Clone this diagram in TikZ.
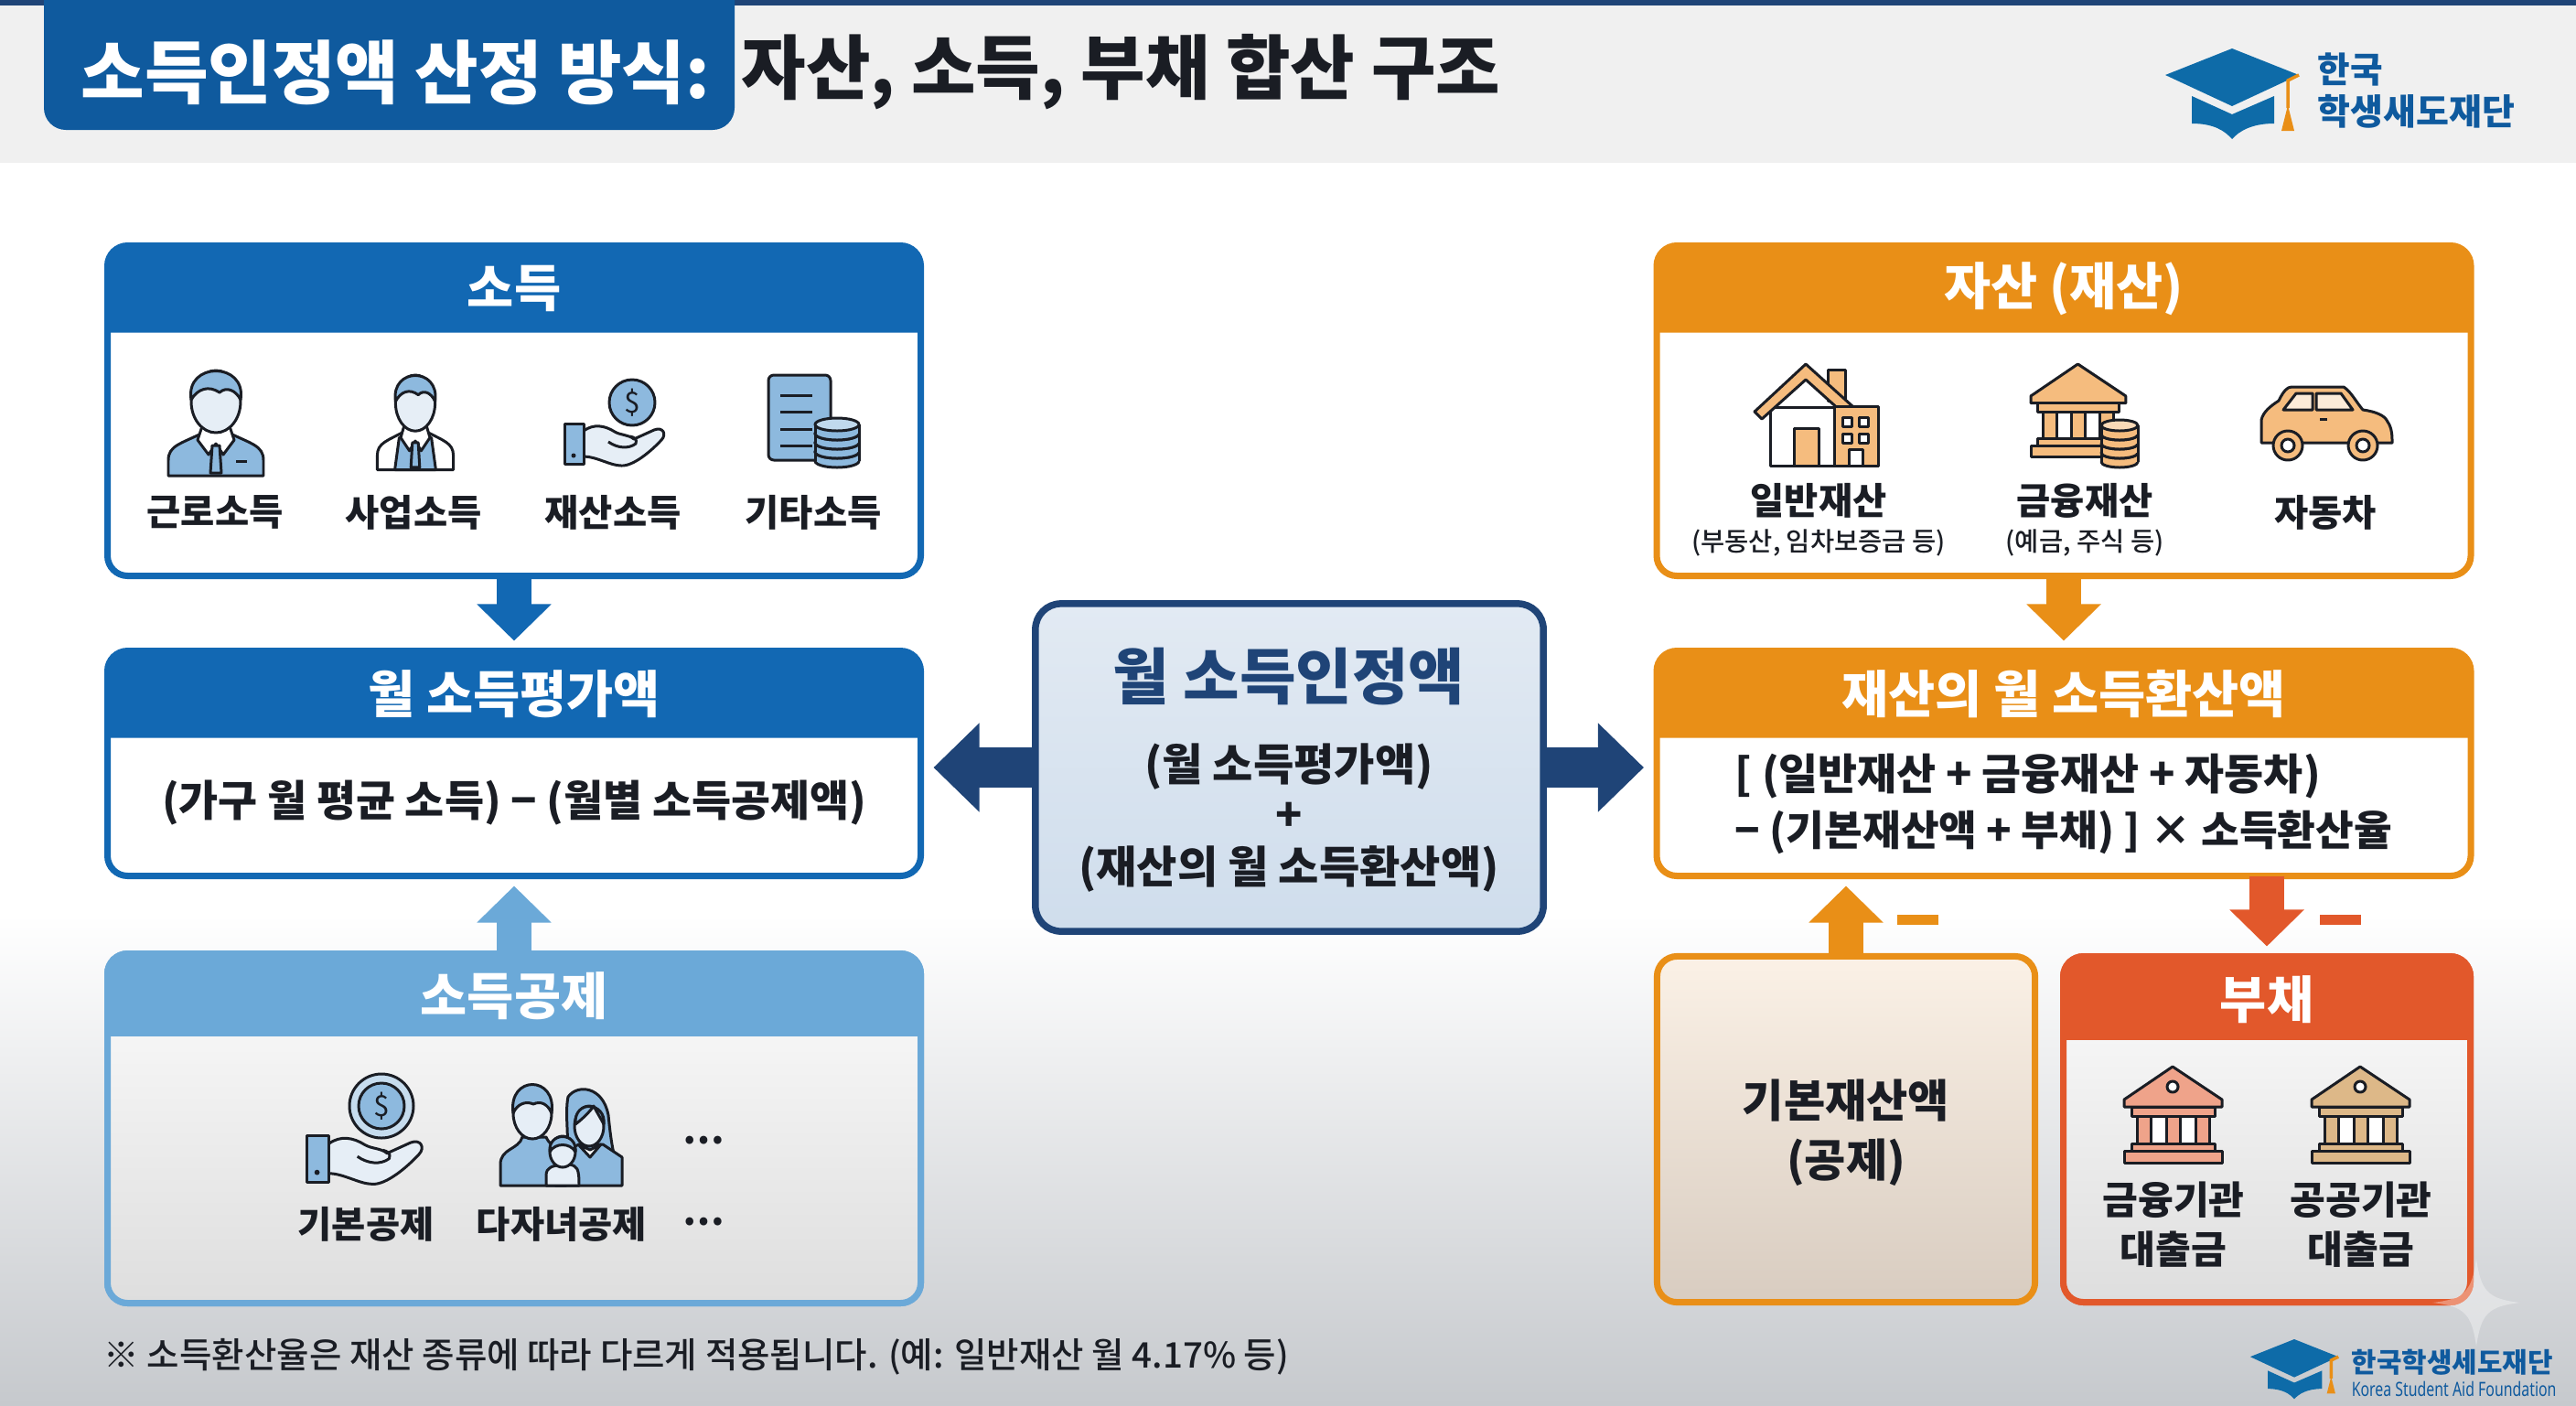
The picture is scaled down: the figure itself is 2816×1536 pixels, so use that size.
\documentclass[tikz,border=0pt]{standalone}
\usepackage{fontspec}
\setmainfont{Noto Sans CJK KR}
\newfontfamily\krmed{Noto Sans CJK KR Medium}
\newfontfamily\engfont[FakeStretch=0.74]{Noto Sans}
\usetikzlibrary{arrows.meta,calc}

\definecolor{incblue}{HTML}{1268B3}
\definecolor{dedblue}{HTML}{6BA9D8}
\definecolor{tabblue}{HTML}{0F5A9E}
\definecolor{navy}{HTML}{1F4477}
\definecolor{asorange}{HTML}{E98F17}
\definecolor{debtred}{HTML}{E2582B}
\definecolor{inkc}{HTML}{1A1D24}
\definecolor{icblue}{HTML}{8DB9DE}
\definecolor{icorange}{HTML}{F5BC7E}
\definecolor{bottomgray}{HTML}{C6C9CD}
\definecolor{centretop}{HTML}{E2EAF3}
\definecolor{centrebot}{HTML}{CFDDEC}
\definecolor{basetop}{HTML}{FBF1E6}
\definecolor{basebot}{HTML}{D8CCC0}
\definecolor{facec}{HTML}{E6EEF6}

\tikzset{
	ink/.style={draw=inkc,line width=0.85pt,line join=round},
	cardbox/.style={draw=#1,line width=0.07cm,rounded corners=0.22cm,inner sep=0pt,outer sep=0pt,fill=white},
	hdrtext/.style={text=white,inner sep=0pt,font=\bfseries\fontsize{15.8}{18}\selectfont},
	itemtext/.style={text=inkc,inner sep=0pt,align=center,font=\bfseries\fontsize{11.5}{15.5}\selectfont},
	subtext/.style={text=inkc,inner sep=0pt,font=\krmed\fontsize{8.1}{10}\selectfont},
	bodytext/.style={text=inkc,inner sep=0pt,align=left,font=\bfseries\fontsize{13.3}{17}\selectfont},
	centretext/.style={text=inkc,inner sep=0pt,font=\bfseries\fontsize{13.7}{16}\selectfont},
	blockarrow/.style={line width=0.38cm,draw=#1,-{Triangle[length=0.40cm,width=0.79cm]},shorten >=0.11cm},
	sidearrow/.style={line width=0.44cm,draw=navy,-{Triangle[length=0.50cm,width=0.94cm]},shorten >=0.14cm},
	minusbar/.style={fill=#1,minimum width=0.45cm,minimum height=0.11cm,inner sep=0pt}
}

% card with a coloured head: name, centre x, top y, width, height, head height, colour, title
\newcommand{\headcard}[8]{
	\node[cardbox=#7,minimum width=#4*0.01cm-0.07cm,minimum height=#5*0.01cm-0.07cm] (#1) at (#2,#3+#5/2) {};
	\fill[#7] ([yshift=-#6*0.01cm]#1.north west) [rounded corners=0.22cm] -- (#1.north west) -- (#1.north east) [sharp corners] -- ([yshift=-#6*0.01cm]#1.north east) -- cycle;
	\node[hdrtext] (#1head) at (#2,#3+#6/2+3) {#8};
}

% ICONS
\newcommand{\workericon}[5]{
	\begin{scope}[shift={(#1,#2)},#3]
		\draw[ink,fill=#4] (-52,115) -- (-52,98) .. controls (-52,82) and (-38,80) .. (-14,68) -- (14,68) .. controls (38,80) and (52,82) .. (52,98) -- (52,115) -- cycle;
		\draw[ink,#5] (-28,115) -- (-22,76) -- (22,76) -- (28,115) -- cycle;
		\draw[ink,fill=white] (-14,58) -- (-20,76) -- (-8,92) -- (0,80) -- (8,92) -- (20,76) -- (14,58) -- cycle;
		\draw[ink,fill=icblue] (-4,82) -- (4,82) -- (6,112) -- (-6,112) -- cycle;
		\draw[ink,fill=facec] (0,34) ellipse [x radius=27,y radius=34];
		\draw[ink,fill=icblue] (-27,32) .. controls (-34,-10) and (34,-10) .. (27,32) .. controls (22,22) and (12,17) .. (4,24) .. controls (-8,16) and (-20,20) .. (-27,32) -- cycle;
	\end{scope}
}
\newcommand{\handicon}[3]{
	\begin{scope}[shift={(#1,#2)},scale=#3]
		\draw[ink,fill=facec] (21,8) .. controls (32,0) and (44,2) .. (55,9) .. controls (62,13) and (70,12) .. (76,17) -- (98,7) .. controls (108,3) and (112,12) .. (106,18) .. controls (95,30) and (75,47) .. (62,46) .. controls (50,46) and (35,36) .. (21,36) -- cycle;
		\draw[ink] (48,20) .. controls (58,27) and (70,28) .. (78,22) .. controls (80,17) and (76,15) .. (72,14);
		\draw[ink,fill=icblue] (0,0) rectangle (21,44);
		\fill[inkc] (10,35) circle [radius=2.5];
	\end{scope}
}
\newcommand{\coinicon}[4]{
	\draw[ink,fill=icblue] (#1,#2) circle [radius=#3];
	\node[inner sep=0pt,text=inkc,font=\fontsize{#4}{10}\selectfont] at (#1,#2) {\$};
}
\newcommand{\coinstack}[6]{
	\begin{scope}[shift={(#1,#2)}]
		\foreach \k in {#5,...,0} {
			\draw[ink,fill=#6] (0,{(\k+1)*10}) ellipse [x radius=#3,y radius=#4];
			\fill[#6] (-#3,{\k*10}) rectangle (#3,{(\k+1)*10});
			\draw[ink] (-#3,{\k*10}) -- (-#3,{(\k+1)*10}) (#3,{\k*10}) -- (#3,{(\k+1)*10});
			\draw[ink,fill=#6!55!white] (0,{\k*10}) ellipse [x radius=#3,y radius=#4];
		}
	\end{scope}
}
\newcommand{\bankicon}[4]{
	\begin{scope}[shift={(#1,#2)},scale=#3]
		\draw[ink,fill=#4] (53,0) -- (107,36) -- (107,44) -- (0,44) -- (0,36) -- cycle;
		\draw[ink,fill=#4] (8,44) rectangle (99,54);
		\draw[ink,fill=white] (14,54) rectangle (93,84);
		\foreach \c in {14,46,78} {
			\draw[ink,fill=#4] (\c,54) rectangle (\c+15,84);
		}
		\draw[ink,fill=#4] (8,84) rectangle (99,92);
		\draw[ink,fill=#4] (0,92) rectangle (107,105);
	\end{scope}
}
\newcommand{\caplogo}[3]{
	\begin{scope}[shift={(#1,#2)},scale=#3]
		\fill[tabblue!90!cyan] (-44,52) -- (-44,82) .. controls (-20,82) and (-8,90) .. (0,99) .. controls (8,90) and (22,82) .. (46,82) -- (46,52) -- (0,72) -- cycle;
		\fill[tabblue!90!cyan] (-73,29) -- (0,0) -- (73,29) -- (0,63) -- cycle;
		\draw[asorange,line width=1pt] (73,29) -- (61,35) -- (61,65);
		\fill[asorange] (61,62) -- (54,90) -- (68,90) -- cycle;
	\end{scope}
}

\begin{document}
\begin{tikzpicture}[x=0.01cm,y=-0.01cm]
	\useasboundingbox (0,0) rectangle (2816,1536);
	%BACKGROUND
	\fill[white] (0,0) rectangle (2816,1536);
	\shade[top color=white,bottom color=bottomgray] (0,1000) rectangle (2816,1536);
	\fill[black!6] (0,0) rectangle (2816,178);
	\fill[navy] (0,0) rectangle (2816,6);

	%TITLE
	\fill[tabblue] (48,0) [rounded corners=0.24cm] -- (48,142) -- (803,142) [sharp corners] -- (803,0) -- cycle;
	\node[text=white,inner sep=0pt,anchor=west,font=\bfseries\fontsize{21.5}{25}\selectfont] (maintitle) at (88,79) {소득인정액 산정 방식:};
	\node[text=inkc,inner sep=0pt,anchor=west,font=\bfseries\fontsize{21.8}{25}\selectfont] (subtitle) at (810,79) {자산, 소득, 부채 합산 구조};

	%LOGOS
	\caplogo{2440}{53}{1}
	\node[text=tabblue,inner sep=0pt,anchor=west,font=\bfseries\fontsize{11}{13}\selectfont] (logoa) at (2533,76) {한국};
	\node[text=tabblue,inner sep=0pt,anchor=west,font=\bfseries\fontsize{11.1}{13}\selectfont] (logob) at (2533,122) {학생새도재단};
	\caplogo{2508}{1464}{0.66}
	\node[text=tabblue,inner sep=0pt,anchor=west,font=\bfseries\fontsize{8.5}{10}\selectfont] (logoc) at (2570,1489) {한국학생세도재단};
	\node[text=tabblue,inner sep=0pt,anchor=west,font=\engfont\bfseries\fontsize{6.1}{7}\selectfont] (logod) at (2570,1518) {Korea Student Aid Foundation};

	%LEFT COLUMN
	\headcard{income}{562}{265}{896}{368}{95}{incblue}{소득}
	\headcard{evalamt}{562}{708}{896}{253}{95}{incblue}{월 소득평가액}
	\headcard{deduct}{562}{1039}{896}{389}{94}{dedblue}{소득공제}
	\shade[top color=black!4,bottom color=black!13] (117,1133) [rounded corners=0.2cm] -- (117,1425) -- (1007,1425) [sharp corners] -- (1007,1133) -- cycle;
	\draw[dedblue,line width=0.07cm,rounded corners=0.22cm] (deduct.north west) rectangle (deduct.south east);

	\workericon{236}{405}{scale=1}{icblue}{draw=none}
	\draw[ink] (258,504) -- (270,504);
	\workericon{454}{410}{xscale=0.8,yscale=0.9}{white}{fill=icblue}
	\handicon{617}{463}{1}
	\coinicon{691}{440}{25}{9}
	\draw[ink,fill=icblue] (840,410) [rounded corners=0.06cm] rectangle (908,503);
	\foreach \y in {432,450,469,487} {
		\draw[ink] (853,\y) -- (888,\y);
	}
	\coinstack{915}{464}{24}{7}{3}{icblue}
	\node[itemtext] (kglabel) at (235,560) {근로소득};
	\node[itemtext] (bzlabel) at (452,560) {사업소득};
	\node[itemtext] (prlabel) at (670,560) {재산소득};
	\node[itemtext] (etlabel) at (889,560) {기타소득};

	\node[bodytext,align=center] (evalbody) at (562,878) {(가구 월 평균 소득) − (월별 소득공제액)};

	\handicon{335}{1241}{1.16}
	\draw[ink,fill=icblue!50!white] (417,1209) circle [radius=35];
	\coinicon{417}{1209}{25}{9}
	\begin{scope}[shift={(547,1185)}]
		\draw[ink,fill=icblue] (74,14) .. controls (84,0) and (112,2) .. (118,34) .. controls (120,54) and (122,70) .. (126,84) -- (72,84) .. controls (76,60) and (70,34) .. (74,14) -- cycle;
		\draw[ink,fill=icblue] (60,111) -- (60,78) -- (86,66) -- (112,66) -- (133,80) -- (133,111) -- cycle;
		\draw[ink,fill=facec] (97,46) ellipse [x radius=16,y radius=22];
		\draw[ink,fill=icblue] (82,44) .. controls (90,38) and (98,30) .. (102,24) .. controls (106,32) and (110,38) .. (113,44) .. controls (116,20) and (80,16) .. (82,44) -- cycle;
		\draw[ink,fill=white] (85,66) -- (98,80) -- (110,66) -- (98,72) -- cycle;
		\draw[ink,fill=icblue] (0,111) -- (0,88) .. controls (0,70) and (20,72) .. (24,58) -- (50,58) .. controls (56,72) and (72,72) .. (72,90) -- (72,111) -- cycle;
		\draw[ink,fill=facec] (35,32) ellipse [x radius=21,y radius=28];
		\draw[ink,fill=icblue] (14,32) .. controls (8,-10) and (62,-10) .. (56,32) .. controls (52,22) and (44,18) .. (36,22) .. controls (28,18) and (18,22) .. (14,32) -- cycle;
		\draw[ink,fill=facec] (50,111) -- (50,100) .. controls (50,90) and (58,90) .. (66,88) -- (76,88) .. controls (84,90) and (86,92) .. (86,111) -- cycle;
		\draw[ink,fill=facec] (68,74) ellipse [x radius=14,y radius=17];
		\draw[ink,fill=icblue] (54,74) .. controls (52,52) and (84,52) .. (82,74) .. controls (76,64) and (60,64) .. (54,74) -- cycle;
	\end{scope}
	\node[itemtext] (baslabel) at (400,1338) {기본공제};
	\node[itemtext] (chlabel) at (614,1338) {다자녀공제};
	\node[itemtext] (dotsa) at (769,1247) {…};
	\node[itemtext] (dotsb) at (769,1336) {…};

	\node[text=inkc,inner sep=0pt,anchor=west,font=\krmed\fontsize{10.95}{13}\selectfont] (footnote) at (113,1483) {※ 소득환산율은 재산 종류에 따라 다르게 적용됩니다. (예: 일반재산 월 4.17\% 등)};

	\draw[blockarrow=incblue] (income.south) -- (evalamt.north);
	\draw[blockarrow=dedblue] (deduct.north) -- (evalamt.south);

	%CENTRE
	\node[draw=navy,line width=0.075cm,rounded corners=0.28cm,inner sep=0pt,outer sep=0pt,top color=centretop,bottom color=centrebot,minimum width=5.55cm,minimum height=3.58cm] (centre) at (1409.5,839) {};
	\node[text=navy,inner sep=0pt,font=\bfseries\fontsize{19}{22}\selectfont] (centrehead) at (1409,740) {월 소득인정액};
	\node[centretext] (centrea) at (1409,838) {(월 소득평가액)};
	\node[centretext] (centreb) at (1409,893) {+};
	\node[centretext] (centrec) at (1409,950) {(재산의 월 소득환산액)};

	%RIGHT COLUMN
	\headcard{asset}{2256}{265}{897}{368}{95}{asorange}{자산 (재산)}
	\headcard{convamt}{2256}{708}{897}{253}{95}{asorange}{재산의 월 소득환산액}
	\headcard{debt}{2478}{1042}{452}{385}{95}{debtred}{부채}
	\shade[top color=black!4,bottom color=black!13] (2255,1137) [rounded corners=0.2cm] -- (2255,1424) -- (2701,1424) [sharp corners] -- (2701,1137) -- cycle;
	\draw[debtred,line width=0.07cm,rounded corners=0.22cm] (debt.north west) rectangle (debt.south east);
	\node[draw=asorange,line width=0.07cm,rounded corners=0.22cm,inner sep=0pt,outer sep=0pt,top color=basetop,bottom color=basebot,minimum width=4.13cm,minimum height=3.78cm] (baseamt) at (2018,1234.5) {};

	\begin{scope}[shift={(1918,398)}]
		\draw[ink,fill=white] (17,47) -- (17,111) -- (135,111) -- (135,47) -- cycle;
		\draw[ink,fill=icorange] (80,6) rectangle (99,40);
		\draw[ink,fill=icorange] (0,52) -- (56,0) -- (107,46) -- (95,52) -- (56,17) -- (8,60) -- cycle;
		\draw[ink,fill=icorange] (43,70) rectangle (70,111);
		\draw[ink,fill=icorange] (87,46) rectangle (135,111);
		\foreach \a in {96,114} {
			\foreach \b in {58,76} {
				\draw[ink,fill=white] (\a,\b) rectangle (\a+10,\b+10);
			}
		}
		\draw[ink,fill=white] (103,93) rectangle (118,111);
	\end{scope}
	\bankicon{2220}{398}{0.97}{icorange}
	\coinstack{2317}{465}{20}{6}{3}{icorange}
	\begin{scope}[shift={(2472,422)}]
		\draw[ink,fill=icorange] (0,62) -- (0,37) .. controls (2,28) and (10,22) .. (19,16) .. controls (24,6) and (28,1) .. (33,1) -- (90,1) .. controls (98,6) and (104,18) .. (111,26) .. controls (125,28) and (135,32) .. (138,39) .. controls (143,46) and (143,55) .. (143,62) -- cycle;
		\draw[ink,fill=icorange!30!white] (24,26) -- (38,8) -- (56,8) -- (56,26) -- cycle;
		\draw[ink,fill=icorange!30!white] (60,8) -- (87,8) -- (100,26) -- (60,26) -- cycle;
		\draw[ink] (64,36) -- (72,36);
		\draw[ink,fill=icorange] (29,65) circle [radius=16];
		\draw[ink,fill=white] (29,65) circle [radius=7];
		\draw[ink,fill=icorange] (111,65) circle [radius=16];
		\draw[ink,fill=white] (111,65) circle [radius=7];
	\end{scope}
	\node[itemtext] (gnlabel) at (1988,547) {일반재산};
	\node[subtext] (gnsub) at (1988,593) {(부동산, 임차보증금 등)};
	\node[itemtext] (filabel) at (2279,547) {금융재산};
	\node[subtext] (fisub) at (2279,593) {(예금, 주식 등)};
	\node[itemtext] (carlabel) at (2542,560) {자동차};

	\node[bodytext,anchor=west,font=\bfseries\fontsize{13.3}{17}\selectfont] (convbodya) at (1896,849) {[ (일반재산 + 금융재산 + 자동차)};
	\node[bodytext,anchor=west,font=\bfseries\fontsize{12.9}{17}\selectfont] (convbodyb) at (1896,910) {− (기본재산액 + 부채) ] × 소득환산율};

	\node[itemtext,font=\bfseries\fontsize{14}{18.5}\selectfont] (baselabel) at (2018,1238) {기본재산액\\(공제)};

	\bankicon{2322}{1166}{1}{debtred!55!white}
	\draw[ink,fill=white] (2375,1188) circle [radius=6];
	\bankicon{2527}{1166}{1}{asorange!45!white!90!black}
	\draw[ink,fill=white] (2580,1188) circle [radius=6];
	\node[itemtext,font=\bfseries\fontsize{12}{15.3}\selectfont] (bklabel) at (2376,1339) {금융기관\\대출금};
	\node[itemtext,font=\bfseries\fontsize{12}{15.3}\selectfont] (pblabel) at (2581,1339) {공공기관\\대출금};

	\draw[blockarrow=asorange] (asset.south) -- (convamt.north);
	\draw[blockarrow=asorange] (baseamt.north) -- (baseamt.north |- convamt.south);
	\draw[blockarrow=debtred] (convamt.south -| debt.north) -- (debt.north);
	\node[minusbar=asorange] (minusbase) at (2096,1005) {};
	\node[minusbar=debtred] (minusdebt) at (2558,1005) {};

	\draw[sidearrow] (centre.west) -- (centre.west -| evalamt.east);
	\draw[sidearrow] (centre.east) -- (centre.east -| convamt.west);

	%WATERMARK
	\fill[white,opacity=0.35] (2707,1376) .. controls (2712,1412) and (2720,1420) .. (2755,1424) .. controls (2720,1428) and (2712,1436) .. (2707,1472) .. controls (2702,1436) and (2694,1428) .. (2659,1424) .. controls (2694,1420) and (2702,1412) .. (2707,1376) -- cycle;
\end{tikzpicture}
\end{document}
